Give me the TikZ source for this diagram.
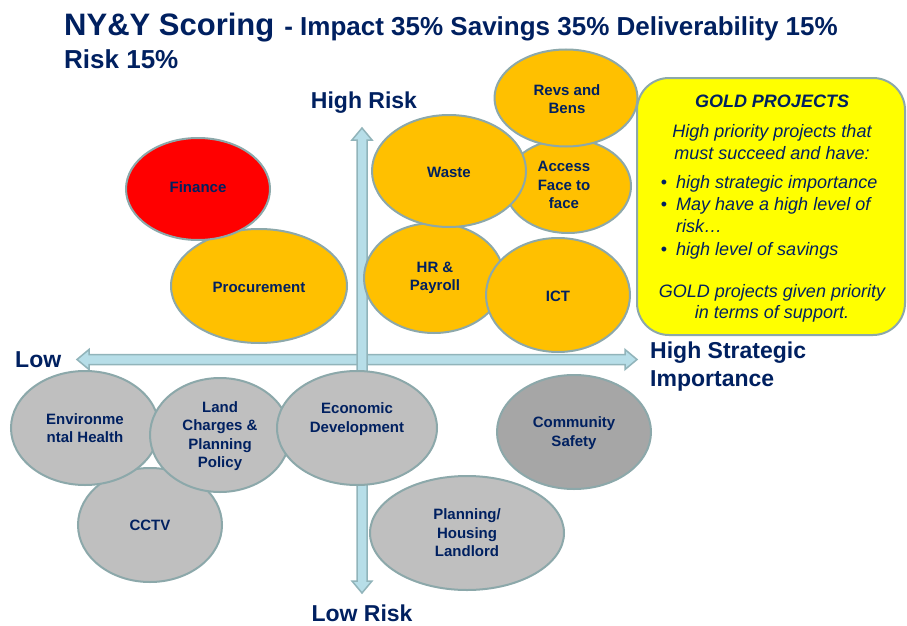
\documentclass[tikz,border=0pt]{standalone}
\usepackage{fontspec}
\setmainfont{Liberation Sans}
\usetikzlibrary{shapes.geometric}

\definecolor{navy}{RGB}{0,32,96}
\definecolor{gold}{RGB}{255,192,0}
\definecolor{alarm}{RGB}{255,0,0}
\definecolor{silver}{RGB}{191,191,191}
\definecolor{slate}{RGB}{166,166,166}
\definecolor{rim}{RGB}{140,168,170}
\definecolor{axisfill}{RGB}{183,222,232}
\definecolor{axisrim}{RGB}{145,180,186}
\definecolor{notefill}{RGB}{255,255,0}

\tikzset{
  blob/.style={ellipse, draw=rim, line width=2pt, inner sep=0pt},
  lbl/.style={text=navy, font=\bfseries\fontsize{15}{18.5}\selectfont, align=center, inner sep=0pt},
  axislbl/.style={text=navy, font=\bfseries\fontsize{23}{28}\selectfont, inner sep=0pt},
  axisarrow/.style={fill=axisfill, draw=axisrim, line width=1.5pt, line join=miter},
  note/.style={text=navy, font=\itshape\fontsize{18}{20}\selectfont, inner sep=0pt},
}

\begin{document}
\begin{tikzpicture}[x=1pt, y=-1pt]
\useasboundingbox (0,0) rectangle (907,626);
\fill[white] (0,0) rectangle (907,626);

% heading
\node[text=navy, font=\bfseries, anchor=base west, inner sep=0pt] (title) at (64,36)
  {{\fontsize{31}{34}\selectfont NY\&Y Scoring}\hspace{10pt}{\fontsize{26}{30}\selectfont - Impact 35\% Savings 35\% Deliverability 15\%}};
\node[text=navy, font=\bfseries\fontsize{26}{30}\selectfont, anchor=base west, inner sep=0pt] (title2) at (64,68) {Risk 15\%};

% axes: strategic importance (horizontal) and risk (vertical)
\draw[axisarrow] (77,359.5) -- (89,349.5) -- (89,354.5) -- (625,354.5) -- (625,349.5)
  -- (637,359.5) -- (625,369.5) -- (625,364.5) -- (89,364.5) -- (89,369.5) -- cycle;
\draw[axisarrow] (362,128) -- (372,140) -- (367,140) -- (367,581) -- (372,581)
  -- (362,593) -- (352,581) -- (357,581) -- (357,140) -- (352,140) -- cycle;

\node[axislbl, anchor=base] (hirisk) at (364,108) {High Risk};
\node[axislbl, anchor=base] (lorisk) at (362,621) {Low Risk};
\node[axislbl, anchor=base west] (low) at (15,367) {Low};
\node[axislbl, anchor=base west, align=left] (histrat) at (650,358) {High Strategic};
\node[axislbl, anchor=base west, align=left] (import) at (650,386) {Importance};

% low risk projects
\node[blob, fill=silver, minimum width=144pt, minimum height=114pt] (cctv) at (150,525) {};
\node[blob, fill=silver, minimum width=148pt, minimum height=114pt] (envh) at (85,428) {};
\node[blob, fill=silver, minimum width=140pt, minimum height=114pt] (land) at (220,435) {};
\node[blob, fill=silver, minimum width=160pt, minimum height=114pt] (econ) at (357,428) {};
\node[blob, fill=silver, minimum width=194pt, minimum height=114pt] (plan) at (467,533) {};
\node[blob, fill=slate, minimum width=154pt, minimum height=114pt] (comm) at (574,432) {};

\node[lbl] (cctv-t) at (150,525) {CCTV};
\node[lbl] (envh-t) at (85,428) {Environme\\ntal Health};
\node[lbl] (land-t) at (220,436) {Land\\Charges \&\\Planning\\Policy};
\node[lbl] (econ-t) at (357,419) {Economic\\Development};
\node[lbl] (plan-t) at (467,533) {Planning/\\Housing\\Landlord};
\node[lbl] (comm-t) at (574,433) {Community\\Safety};

% high risk projects
\node[blob, fill=gold, minimum width=176pt, minimum height=114pt] (proc) at (259,286) {};
\node[blob, fill=alarm, minimum width=144pt, minimum height=102pt] (fin) at (198,189) {};
\node[blob, fill=gold, minimum width=126pt, minimum height=94pt] (acc) at (568,186) {};
\node[blob, fill=gold, minimum width=140pt, minimum height=110pt] (hr) at (434,278) {};
\node[blob, fill=gold, minimum width=154pt, minimum height=112pt] (waste) at (449,171) {};
\node[blob, fill=gold, minimum width=143pt, minimum height=97pt] (revs) at (566,98) {};
\node[blob, fill=gold, minimum width=144pt, minimum height=114pt] (ict) at (558,295) {};

\node[lbl] (proc-t) at (259,287) {Procurement};
\node[lbl] (fin-t) at (198,187) {Finance};
\node[lbl] (acc-t) at (564,185) {Access\\Face to\\face};
\node[lbl] (hr-t) at (435,278) {HR \&\\Payroll};
\node[lbl] (waste-t) at (449,172) {Waste};
\node[lbl] (revs-t) at (567,99) {Revs and\\Bens};
\node[lbl] (ict-t) at (558,296) {ICT};

% gold projects panel
\draw[fill=notefill, draw=rim, line width=2pt, rounded corners=32pt] (637,78) rectangle (905,335);
\node[note, font=\bfseries\itshape\fontsize{18}{20}\selectfont, anchor=base] (gold-h) at (772,107) {GOLD PROJECTS};
\node[note, anchor=base] (gold-a) at (772,137) {High priority projects that};
\node[note, anchor=base] (gold-b) at (772,159) {must succeed and have:};
\node[note, font=\fontsize{18}{20}\selectfont, anchor=base] (dot1) at (664,188) {\textbullet};
\node[note, anchor=base west] (gold-c) at (676,188) {high strategic importance};
\node[note, font=\fontsize{18}{20}\selectfont, anchor=base] (dot2) at (664,210) {\textbullet};
\node[note, anchor=base west] (gold-d) at (676,210) {May have a high level of};
\node[note, anchor=base west] (gold-e) at (676,232) {risk\dots};
\node[note, font=\fontsize{18}{20}\selectfont, anchor=base] (dot3) at (664,255) {\textbullet};
\node[note, anchor=base west] (gold-f) at (676,255) {high level of savings};
\node[note, anchor=base] (gold-g) at (772,297) {GOLD projects given priority};
\node[note, anchor=base] (gold-h2) at (772,318) {in terms of support.};
\end{tikzpicture}
\end{document}
